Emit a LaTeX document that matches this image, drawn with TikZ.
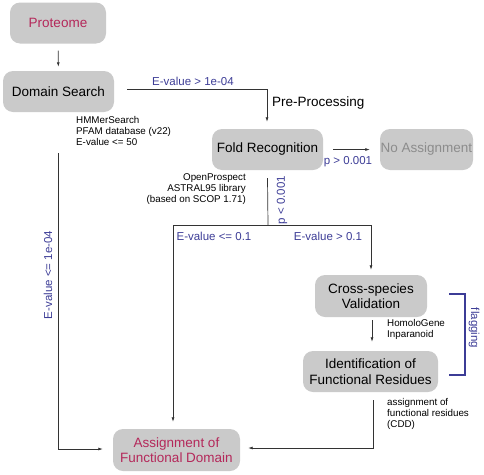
\documentclass[tikz,border=0pt]{standalone}
\usepackage{fontspec}
\setmainfont{Liberation Sans}
\usetikzlibrary{arrows.meta}
\definecolor{condblue}{RGB}{60,60,150}
\definecolor{endred}{RGB}{180,40,90}
\definecolor{boxgray}{RGB}{202,202,202}
\tikzset{
	stage/.style={fill=boxgray, rounded corners=10pt, minimum height=41pt, inner sep=0pt, align=center, font=\fontsize{13.5}{15.5}\selectfont},
	link/.style={draw=black!80, line width=0.7pt},
	flow/.style={link, -{Latex[length=4.5pt,width=3pt]}},
	note/.style={font=\fontsize{9.8}{10.9}\selectfont, inner sep=0pt},
	cond/.style={text=condblue, font=\fontsize{11.5}{13}\selectfont, inner sep=0pt},
}

\begin{document}
\begin{tikzpicture}[x=1pt, y=-1pt]
		%%%%% START %%%%%
		\useasboundingbox (0, 0) rectangle (484, 474);
		
		\node[stage, minimum width=96pt, text=endred] (proteome) at (58, 23) {Proteome};
		\node[stage, minimum width=111pt] (domain) at (58.5, 91.5) {Domain Search};
		\node[stage, minimum width=111pt] (fold) at (267.5, 149.5) {Fold Recognition};
		\node[stage, minimum width=93pt, text=black!45] (noassign) at (426.5, 149.5) {No Assignment};
		\node[stage, minimum width=112pt, minimum height=42pt] (cross) at (371, 296) {Cross-species\\Validation};
		\node[stage, minimum width=135pt] (resid) at (370.5, 371.5) {Identification of\\Functional Residues};
		\node[stage, minimum width=127pt, minimum height=42pt, text=endred] (funcdom) at (176.5, 450) {Assignment of\\Functional Domain};
		
		% tool notes
		\node[note, anchor=north west, align=left] (hmmer) at (76, 116.5) {HMMerSearch\\PFAM database (v22)\\E-value <= 50};
		\node[note, anchor=north east, align=right] (prospect) at (246, 173.5) {OpenProspect\\ASTRAL95 library\\(based on SCOP 1.71)};
		\node[note, anchor=north west, align=left] (homolo) at (387, 319.5) {HomoloGene\\Inparanoid};
		\node[note, anchor=north west, align=left] (cdd) at (387, 398.5) {assignment of\\functional residues\\(CDD)};
		\node[font=\fontsize{13.5}{15.5}\selectfont, anchor=west, inner sep=0pt] (preproc) at (272, 103) {Pre-Processing};
		
		% conditions
		\node[cond] (evhigh) at (193, 81) {E-value > 1e-04};
		\node[cond, rotate=90] (evlow) at (48, 275) {E-value <= 1e-04};
		\node[cond] (pgt) at (348, 162) {p > 0.001};
		\node[cond, rotate=90] (plt) at (282, 200) {p < 0.001};
		\node[cond] (evle) at (214, 236) {E-value <= 0.1};
		\node[cond] (evgt) at (328, 236) {E-value > 0.1};
		\node[cond, rotate=-90] (flagging) at (474, 328) {flagging};
		
		\draw[flow, shorten <=7pt, shorten >=4pt] (proteome) -- (domain);
		\draw[flow, shorten >=7pt] ([xshift=13pt, yshift=2.5pt]domain.east) -| ([xshift=-0.5pt]fold.north);
		\draw[flow] ([yshift=-41pt]domain.south) |- ([xshift=-10pt, yshift=1pt]funcdom.west);
		\draw[flow, shorten <=10pt, shorten >=10pt] (fold) -- (noassign);
		
		\coordinate (split) at (268, 225);
		\draw[link] ([yshift=-8pt]fold.south) -- (split);
		\draw[flow, shorten >=7pt] (split) -| ([xshift=-3.5pt]funcdom.north);
		\draw[flow, shorten >=5pt] (split) -| (cross.north);
		\draw[flow, shorten <=3pt, shorten >=9pt] ([xshift=1pt]cross.south) -- ([xshift=1pt]cross.south |- resid.north);
		\draw[flow, shorten >=8pt] ([xshift=2.5pt, yshift=-8pt]resid.south) |- ([yshift=2pt]funcdom.east);
		
		% flagging bracket
		\draw[condblue, line width=1.2pt] (449, 294) -- (465, 294) -- (465, 375) -- (449, 375);
		%%%%% END %%%%%
\end{tikzpicture}
\end{document}
